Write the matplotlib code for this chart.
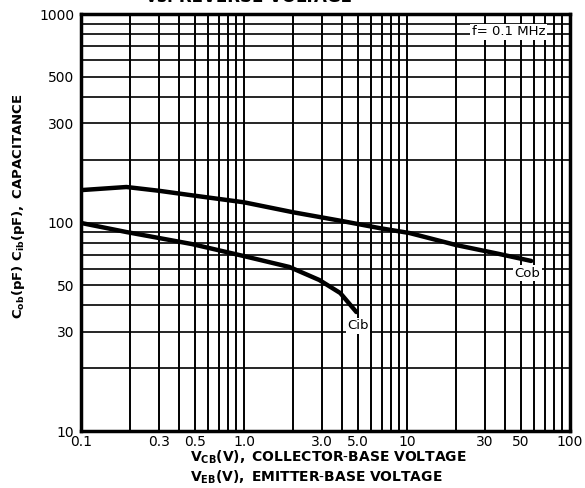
import matplotlib
matplotlib.use("Agg")
import matplotlib.pyplot as plt
from matplotlib.ticker import FixedLocator, NullFormatter, LogLocator

# Data
cob_v = [0.1, 0.19, 0.3, 0.48, 1.0, 2.0, 3.9, 6.8, 10.4, 20, 37, 58]
cob_c = [143, 148, 142, 135, 125, 112, 102, 94, 89, 78, 70.6, 65.4]
cib_v = [0.1, 0.19, 0.3, 0.48, 0.69, 1.0, 1.9, 2.9, 3.9, 4.9]
cib_c = [99.5, 90, 84.3, 78.8, 73.8, 69, 61.2, 53, 45.9, 37.2]
xticks = [0.1, 0.3, 0.5, 1.0, 3.0, 5.0, 10, 30, 50, 100]
xticklabels = ["0.1", "0.3", "0.5", "1.0", "3.0", "5.0", "10", "30", "50", "100"]
yticks = [10, 30, 50, 100, 300, 500, 1000]
yticklabels = ["10", "30", "50", "100", "300", "500", "1000"]

plt.rcParams['font.family'] = ['DejaVu Sans']
plt.rcParams['mathtext.fontset'] = 'custom'
plt.rcParams['mathtext.rm'] = 'DejaVu Sans'
plt.rcParams['mathtext.bf'] = 'DejaVu Sans:bold'
plt.rcParams['mathtext.it'] = 'DejaVu Sans:italic'

fig = plt.figure(figsize=(5.85, 4.88), dpi=100)
ax = fig.add_axes([0.1385, 0.1168, 0.8355, 0.8545])
ax.set_xscale('log')
ax.set_yscale('log')
ax.set_xlim(0.1, 100)
ax.set_ylim(10, 1000)

ax.xaxis.set_major_locator(FixedLocator(xticks))
ax.set_xticklabels(xticklabels)
ax.yaxis.set_major_locator(FixedLocator(yticks))
ax.set_yticklabels(yticklabels)
ax.xaxis.set_minor_locator(LogLocator(base=10, subs=range(1, 10)))
ax.yaxis.set_minor_locator(LogLocator(base=10, subs=range(1, 10)))
ax.xaxis.set_minor_formatter(NullFormatter())
ax.yaxis.set_minor_formatter(NullFormatter())
ax.tick_params(which='both', length=0, labelsize=10)
ax.tick_params(axis='x', pad=3)
ax.tick_params(axis='y', pad=5)

ax.grid(True, which='both', axis='x', color='black', lw=1.4)
ax.grid(True, which='both', axis='y', color='black', lw=1.2)
ax.set_axisbelow(True)
for s in ax.spines.values():
    s.set_linewidth(2.5)
    s.set_color('black')

ax.plot(cob_v, cob_c, color='black', lw=3.2, solid_capstyle='round', zorder=3)
ax.plot(cib_v, cib_c, color='black', lw=3.2, solid_capstyle='round', zorder=3)

box = dict(facecolor='white', edgecolor='none', pad=1.0)
ax.text(55, 57, "Cob", fontsize=9.5, ha='center', va='center', bbox=box, zorder=4)
ax.text(5.0, 32, "Cib", fontsize=9.5, ha='center', va='center', bbox=box, zorder=4)
ax.text(42, 820, "f= 0.1 MHz", fontsize=9.5, ha='center', va='center', bbox=box, zorder=4)

fig.text(0.032, 0.578, r"$\mathbf{C_{ob}(pF)\ C_{ib}(pF),\ CAPACITANCE}$",
         rotation=90, ha='center', va='center', fontsize=9.5)
fig.text(0.325, 0.062, r"$\mathbf{V_{CB}(V),\ COLLECTOR\text{-}BASE\ VOLTAGE}$",
         ha='left', va='center', fontsize=10)
fig.text(0.325, 0.022, r"$\mathbf{V_{EB}(V),\ EMITTER\text{-}BASE\ VOLTAGE}$",
         ha='left', va='center', fontsize=10)
fig.text(0.425, 1.006, "vs. REVERSE VOLTAGE", ha='center', va='center',
         fontsize=12, fontweight='bold')

fig.savefig("out.png", dpi=100, facecolor='white')
